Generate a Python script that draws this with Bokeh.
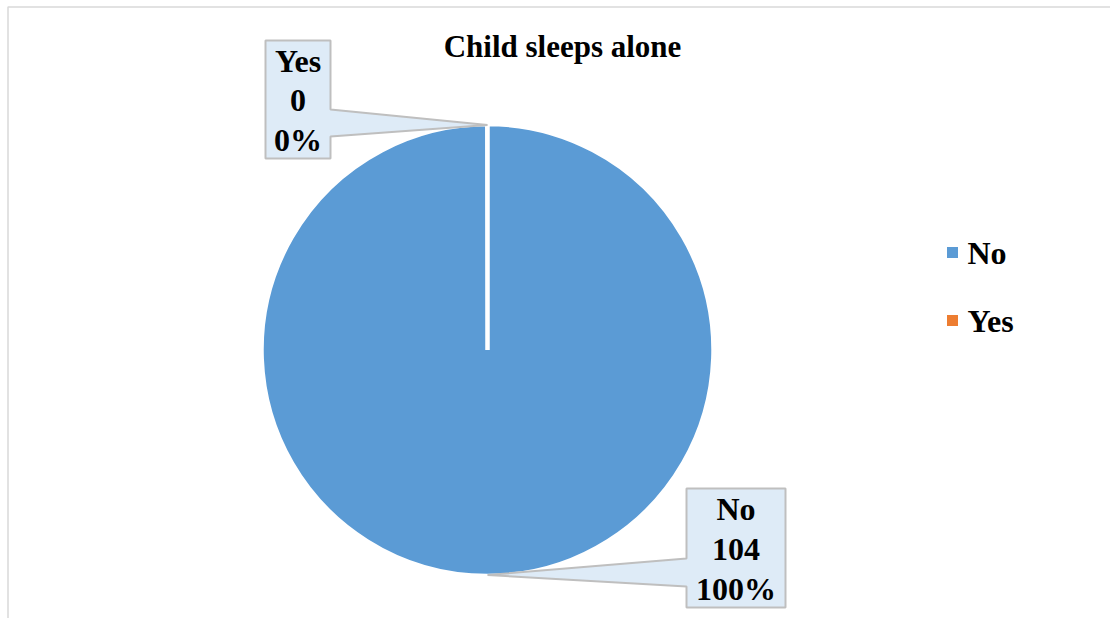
import math
from bokeh.plotting import figure
from bokeh.models import Range1d, ColumnDataSource
from bokeh.core.properties import value
from bokeh.embed import file_html
from bokeh.resources import INLINE

# ---- data ----
title_text = "Child sleeps alone"
categories = ["No", "Yes"]
counts = [104, 0]
colors = ["#5B9BD5", "#ED7D31"]

W, H = 1110, 618
FONT = "Liberation Serif"

def Y(py):
    return H - py

p = figure(width=W, height=H, output_backend="svg", toolbar_location=None,
           x_range=Range1d(0, W), y_range=Range1d(0, H), min_border=0)
p.axis.visible = False
p.grid.visible = False
p.outline_line_color = None
p.background_fill_color = "white"
p.border_fill_color = "white"

# chart area border (top and left visible)
p.quad(left=[7.5], right=[W + 20], top=[Y(6.5)], bottom=[Y(H + 20)],
       fill_color=None, line_color="#D9D9D9", line_width=1.5)

# ---- pie ----
cx, cy, r = 487, Y(349.5), 226
total = sum(counts)
start = []
end = []
a = math.pi / 2
for c in counts:
    start.append(a)
    a = a - 2 * math.pi * c / total
    end.append(a)
pct = [f"{round(100 * c / total)}%" for c in counts]
keep = [i for i, c in enumerate(counts) if c > 0]
EPS = 1e-3
src = ColumnDataSource(dict(cat=[categories[i] for i in keep],
                            start=[start[i] for i in keep],
                            end=[max(end[i], start[i] - 2 * math.pi + EPS) for i in keep],
                            color=[colors[i] for i in keep]))
p.wedge(x=cx, y=cy, radius=r, start_angle="start", end_angle="end",
        direction="clock", fill_color="color", line_color="white",
        line_width=4.5, source=src)

# ---- callouts ----
boxes = [  # (left, right, top_px, bottom_px, pointer top/bottom px, side)
    dict(l=686, rr=785, t=488, b=607, p1=558, p2=586, side="left"),
    dict(l=265, rr=330, t=40, b=158, p1=109, p2=136, side="right"),
]
xs_all, ys_all = [], []
tx, ty, tt = [], [], []
for i, bx in enumerate(boxes):
    mid = (start[i] + end[i]) / 2
    tipx = cx + (r - 1) * math.cos(mid)
    tipy = cy + (r - 1) * math.sin(mid)
    l, rr, t, b = bx["l"], bx["rr"], Y(bx["t"]), Y(bx["b"])
    p1, p2 = Y(bx["p1"]), Y(bx["p2"])
    if bx["side"] == "left":
        xs = [l, rr, rr, l, l, tipx, l]
        ys = [t, t, b, b, p2, tipy, p1]
    else:
        xs = [l, rr, rr, tipx, rr, rr, l]
        ys = [t, t, p1, tipy, p2, b, b]
    xs_all.append(xs)
    ys_all.append(ys)
    lines = [categories[i], str(counts[i]), pct[i]]
    cxb = (bx["l"] + bx["rr"]) / 2
    n = len(lines)
    step = (bx["b"] - bx["t"]) / n
    for k, s in enumerate(lines):
        tx.append(cxb)
        ty.append(Y(bx["t"] + step * (k + 0.5) + 1))
        tt.append(s)

p.patches(xs=xs_all, ys=ys_all, fill_color="#DEEBF7", line_color="#BFBFBF",
          line_width=2)
p.text(x=tx, y=ty, text=tt, text_font=value(FONT), text_font_style="bold",
       text_font_size="32px", text_align="center", text_baseline="middle",
       text_color="black")

# ---- title ----
p.text(x=[562], y=[Y(46)], text=[title_text], text_font=value(FONT),
       text_font_style="bold", text_font_size="31px", text_align="center",
       text_baseline="middle", text_color="black")

# ---- legend ----
leg_y = [Y(252), Y(320)]
p.scatter(x=[952] * len(categories), y=leg_y, marker="square", size=11,
          fill_color=colors, line_color=None)
p.text(x=[967] * len(categories), y=leg_y, text=categories,
       text_font=value(FONT), text_font_style="bold", text_font_size="32px",
       text_align="left", text_baseline="middle", text_color="black")

open("out.html", "w").write(file_html(p, INLINE))
